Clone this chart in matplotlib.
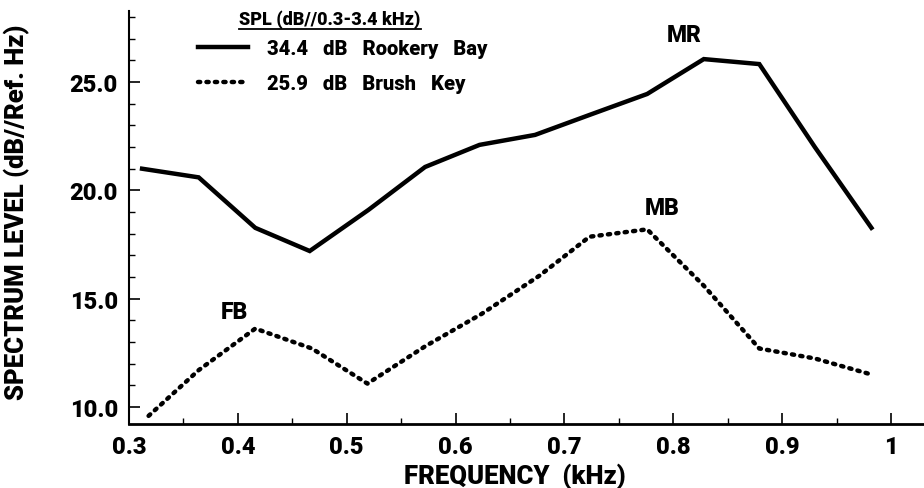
import numpy as np
import matplotlib
matplotlib.use("Agg")
import matplotlib.pyplot as plt
from matplotlib.ticker import MultipleLocator, FixedLocator

# Data
freq_rookery = [0.312, 0.364, 0.416, 0.466, 0.520, 0.572, 0.622, 0.673, 0.724, 0.776, 0.828, 0.879, 0.930, 0.982]
level_rookery = [21.0, 20.6, 18.27, 17.2, 19.1, 21.08, 22.1, 22.56, 23.5, 24.45, 26.06, 25.83, 22.0, 18.27]

freq_brush = [0.318, 0.364, 0.416, 0.468, 0.519, 0.572, 0.624, 0.677, 0.723, 0.776, 0.828, 0.879, 0.930, 0.982]
level_brush = [9.59, 11.7, 13.62, 12.7, 11.08, 12.8, 14.3, 16.06, 17.86, 18.2, 15.6, 12.7, 12.24, 11.5]

legend_labels = ["34.4   dB   Rookery   Bay", "25.9   dB   Brush   Key"]
legend_title = "SPL (dB//0.3-3.4 kHz)"
peak_labels = [("MR", 0.81, 27.2), ("MB", 0.79, 19.2), ("FB", 0.397, 14.4)]

plt.rcParams['font.family'] = ['Roboto', 'Liberation Sans', 'DejaVu Sans']
W = 900

fig = plt.figure(figsize=(9.24, 4.89), dpi=100)
ax = fig.add_axes([129/924, 64/489, 795/924, 413/489])

l1, = ax.plot(freq_rookery, level_rookery, color='black', lw=3.2,
              solid_joinstyle='miter', label=legend_labels[0])
l2, = ax.plot(freq_brush, level_brush, color='black', lw=3.2,
              linestyle=(0, (0.5, 1.4)), dash_capstyle='round', label=legend_labels[1])

for txt, x, y in peak_labels:
    ax.text(x, y, txt, fontsize=16.5, fontweight=W, ha='center', va='center')

ax.set_xlim(0.3, 1.0303)
ax.set_ylim(9.215, 28.28)

ax.xaxis.set_major_locator(FixedLocator([0.3, 0.4, 0.5, 0.6, 0.7, 0.8, 0.9, 1.0]))
ax.set_xticklabels(["0.3", "0.4", "0.5", "0.6", "0.7", "0.8", "0.9", "1"])
ax.xaxis.set_minor_locator(MultipleLocator(0.05))
ax.yaxis.set_major_locator(FixedLocator([10, 15, 20, 25]))
ax.set_yticklabels(["10.0", "15.0", "20.0", "25.0"])
ax.yaxis.set_minor_locator(MultipleLocator(1))

ax.tick_params(which='major', direction='in', length=8, width=1.2, labelsize=17, pad=8)
ax.tick_params(which='minor', direction='in', length=4, width=1.0)
for lab in ax.get_xticklabels() + ax.get_yticklabels():
    lab.set_fontweight(W)

ax.spines['top'].set_visible(False)
ax.spines['right'].set_visible(False)
ax.spines['left'].set_linewidth(1.5)
ax.spines['bottom'].set_linewidth(2.0)

ax.set_xlabel("FREQUENCY  (kHz)", fontsize=18.5, fontweight=W)
ax.xaxis.set_label_coords(0.486, -0.094, transform=ax.transAxes)
ax.set_ylabel("SPECTRUM LEVEL (dB//Ref. Hz)", fontsize=18.5, fontweight=W)
ax.yaxis.set_label_coords(-0.125, 0.515, transform=ax.transAxes)

leg = ax.legend(handles=[l1, l2], loc='upper left', bbox_to_anchor=(0.064, 0.975),
                frameon=False, fontsize=14.5, handlelength=2.5, handletextpad=0.95,
                labelspacing=0.75)
for t in leg.get_texts():
    t.set_fontweight(W)

title = fig.text(330/924, 1 - 20/489, legend_title, fontsize=13, fontweight=W,
                 ha='center', va='center')
fig.canvas.draw()
bb = title.get_window_extent().transformed(fig.transFigure.inverted())
fig.add_artist(plt.Line2D([bb.x0, bb.x1], [bb.y0 - 0.002, bb.y0 - 0.002],
                          transform=fig.transFigure, color='black', lw=1.3))

fig.savefig("out.png", dpi=100)
